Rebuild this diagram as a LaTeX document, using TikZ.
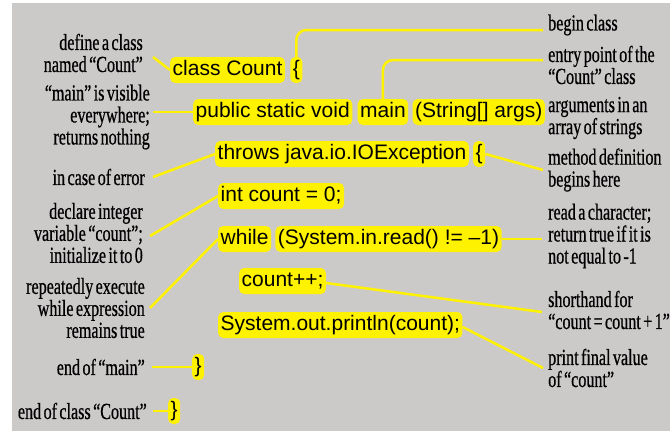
\documentclass[tikz,border=0pt]{standalone}
\usepackage{fontspec}
\newfontfamily\codefont{Liberation Sans}
\newfontfamily\notefont[FakeStretch=0.7, FakeBold=0.6, WordSpace=0.6]{Liberation Serif}
\usetikzlibrary{positioning}
\definecolor{bggray}{RGB}{204,201,201}
\definecolor{hilite}{RGB}{255,242,0}

\begin{document}
\begin{tikzpicture}[
    x=1pt, y=-1pt,
    code/.style={rectangle, fill=hilite, rounded corners=5pt,
                 inner xsep=2.5pt, inner ysep=3.25pt,
                 text height=15pt, text depth=4.5pt,
                 font=\codefont\fontsize{21}{24}\selectfont},
    note/.style={inner sep=0pt, font=\notefont\fontsize{23}{22}\selectfont},
    leftnote/.style={note, anchor=east, align=right},
    rightnote/.style={note, anchor=west, align=left},
    link/.style={draw=hilite, line width=2.5pt}
]

%% --- Fundal ---
\useasboundingbox (0,0) rectangle (670,431);
\fill[bggray] (12,3) rectangle (670,431);

%% --- LINII DE COD ---
\node[code, anchor=west] (c_class) at (170,70) {class Count};
\node[code, right=5pt of c_class] (c_open) {\{};
\node[code, anchor=west] (c_public) at (193,112) {public static void};
\node[code, right=5pt of c_public] (c_main) {main};
\node[code, right=4pt of c_main] (c_args) {(String[] args)};
\node[code, anchor=west] (c_throws) at (215,154) {throws java.io.IOException};
\node[code, right=4pt of c_throws] (c_method) {\{};
\node[code, anchor=west] (c_int) at (218,196) {int count = 0;};
\node[code, anchor=west] (c_while) at (218,239) {while};
\node[code, right=4pt of c_while] (c_read) {(System.in.read() != –1)};
\node[code, anchor=west] (c_incr) at (239,281) {count++;};
\node[code, anchor=west] (c_print) at (218,325) {System.out.println(count);};
\node[code, anchor=west] (c_endmain) at (192,367) {\}};
\node[code, anchor=west] (c_endclass) at (168,411) {\}};

%% --- NOTE STANGA ---
\node[leftnote] (n_define) at (143,53) {define a class\\named “Count”};
\node[leftnote] (n_visible) at (150,117) {“main” is visible\\everywhere;\\returns nothing};
\node[leftnote] (n_error) at (145,177) {in case of error};
\node[leftnote] (n_declare) at (143,233) {declare integer\\variable “count”;\\initialize it to 0};
\node[leftnote] (n_repeat) at (145,308) {repeatedly execute\\while expression\\remains true};
\node[leftnote] (n_endmain) at (145,367) {end of “main”};
\node[leftnote] (n_endclass) at (147,411) {end of class “Count”};

%% --- NOTE DREAPTA ---
\node[rightnote] (n_begin) at (548,25) {begin class};
\node[rightnote] (n_entry) at (548,65) {entry point of the\\“Count” class};
\node[rightnote] (n_args) at (548,118) {arguments in an\\array of strings};
\node[rightnote] (n_method) at (548,170) {method definition\\begins here};
\node[rightnote] (n_read) at (548,236) {read a character;\\return true if it is\\not equal to -1};
\node[rightnote] (n_short) at (548,310) {shorthand for\\“count = count + 1”};
\node[rightnote] (n_print) at (548,368) {print final value\\of “count”};

%% --- LEGATURI STANGA ---
\draw[link] ([xshift=10pt,yshift=-4pt]n_define.east) -- (c_class.west);
\draw[link] ([xshift=3pt]n_visible.east |- c_public.west) -- (c_public.west);
\draw[link] ([xshift=8pt]n_error.east) -- (c_throws.west);
\draw[link] ([xshift=7pt,yshift=-3pt]n_declare.east) -- (c_int.west);
\draw[link] ([xshift=5pt]n_repeat.east) -- (c_while.west);
\draw[link] ([xshift=7pt]n_endmain.east) -- (c_endmain.west);
\draw[link] ([xshift=6pt]n_endclass.east) -- (c_endclass.west);

%% --- LEGATURI DREAPTA ---
\draw[link, rounded corners=10pt] (c_open.north) |- ([xshift=-5pt,yshift=-5pt]n_begin.west);
\draw[link, rounded corners=10pt] (c_main.north) |- ([xshift=-5pt,yshift=5pt]n_entry.west);
\draw[link] (c_args.east) -- ([xshift=-3pt]c_args.east -| n_args.west);
\draw[link] (c_method.east) -- ([xshift=-5pt]n_method.west);
\draw[link] (c_read.east) -- ([xshift=-6pt]c_read.east -| n_read.west);
\draw[link] ([yshift=-2pt]c_incr.east) -- ([xshift=-6pt,yshift=-2pt]n_short.west);
\draw[link] ([yshift=-2pt]c_print.east) -- ([xshift=-5pt]n_print.west);

\end{tikzpicture}
\end{document}
